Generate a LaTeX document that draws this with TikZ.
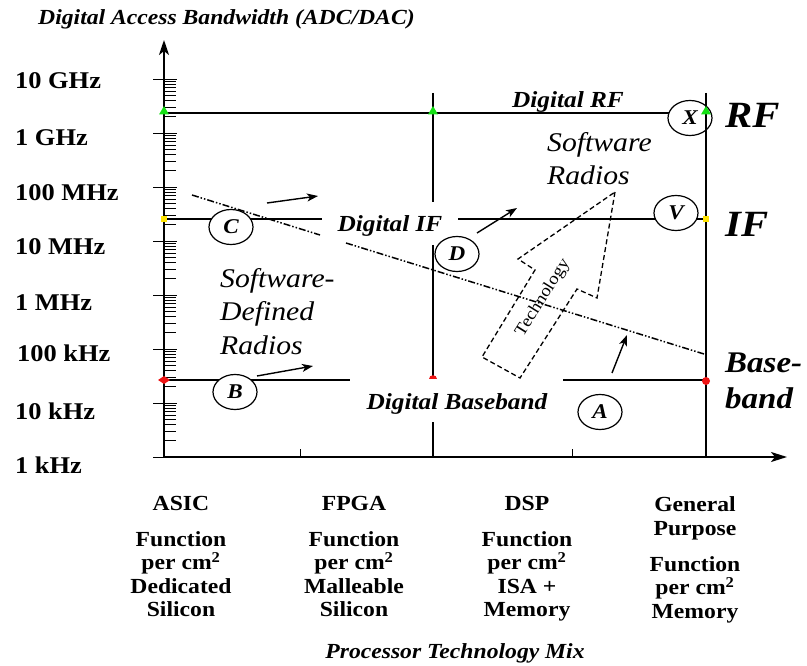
\documentclass[tikz,border=0pt]{standalone}
\usepackage{fontspec}
\setmainfont{Liberation Serif}[FakeStretch=1.1]
\usetikzlibrary{arrows.meta,shapes.geometric}

\newcommand\fsz[2]{\fontsize{#1}{#2}\selectfont}

\definecolor{mkgreen}{RGB}{20,225,20}
\definecolor{mkyellow}{RGB}{255,228,0}
\definecolor{mkred}{RGB}{238,20,20}

\tikzset{
  axisline/.style={line width=2pt},
  gridline/.style={line width=1.3pt},
  tickline/.style={line width=0.9pt},
  pointer/.style={line width=1.4pt, -{Stealth[length=11pt,width=8pt,inset=3pt]}},
  trend/.style={line width=1.5pt, dash pattern=on 7pt off 2pt on 1.5pt off 2pt on 1.5pt off 2pt},
  bigarrow/.style={line width=1.3pt, dash pattern=on 5pt off 3pt},
  ring/.style={draw, ellipse, fill=white, line width=1.2pt, minimum width=44pt,
    minimum height=35pt, inner sep=0pt, font=\fsz{21}{21}\bfseries\itshape},
  ylab/.style={anchor=base west, inner sep=0pt, font=\fsz{24}{24}\bfseries},
  levellab/.style={anchor=base, inner sep=0pt, font=\fsz{23}{23}\bfseries\itshape},
  sidelab/.style={anchor=base west, inner sep=0pt, font=\fsz{37}{37}\bfseries\itshape},
  classlab/.style={anchor=base west, inner sep=0pt, align=left, font=\fsz{27}{33.5}\itshape},
  colhead/.style={anchor=north, inner sep=0pt, align=center, font=\fsz{21.5}{24}\bfseries},
  colbody/.style={anchor=north, inner sep=0pt, align=center, font=\fsz{21.5}{23.5}\bfseries},
}

\begin{document}
\begin{tikzpicture}[x=1pt,y=-1pt]
\useasboundingbox (0,0) rectangle (807,666);

% ---------- axes ----------
\coordinate (O) at (164,457);
\coordinate (Ytop) at (164,40);
\coordinate (Xend) at (787,457);
\draw[axisline,-{Stealth[length=15pt,width=10pt,inset=4pt]}] (O) -- (Ytop);
\draw[axisline,-{Stealth[length=16pt,width=10pt,inset=4pt]}] (O) -- (Xend);

% decade ticks and logarithmic minor ticks
\foreach \d in {0,...,7}
  \draw[tickline] (153,{457-54*\d}) -- (177,{457-54*\d});
\foreach \d in {0,...,6}
  \foreach \m in {2,...,9}
    \draw[tickline] (165,{457-54*\d-54*log10(\m)}) -- (176,{457-54*\d-54*log10(\m)});

% small ticks on the technology axis
\draw[tickline] (300,457) -- (300,449);
\draw[tickline] (572,457) -- (572,449);

% ---------- axis labels ----------
\node[anchor=base west, inner sep=0pt, font=\fsz{21.5}{21.5}\bfseries\itshape] (title) at (38,25)
  {Digital Access Bandwidth (ADC/DAC)};
\node[ylab] (f10g)   at (15,88.5)  {10 GHz};
\node[ylab] (f1g)    at (15,145.5) {1 GHz};
\node[ylab] (f100m)  at (15,200.5) {100 MHz};
\node[ylab] (f10m)   at (15,254.5) {10 MHz};
\node[ylab] (f1m)    at (15,310.5) {1 MHz};
\node[ylab] (f100k)  at (17,361.5) {100 kHz};
\node[ylab] (f10k)   at (15,419.5) {10 kHz};
\node[ylab] (f1k)    at (15,473)   {1 kHz};

% ---------- level lines ----------
\coordinate (rf0) at (164,113);  \coordinate (rf1) at (706,113);
\coordinate (if0) at (164,219);  \coordinate (ifa) at (322,219);
\coordinate (ifb) at (458,219);  \coordinate (if1) at (706,219);
\coordinate (bb0) at (164,380);  \coordinate (bba) at (350,380);
\coordinate (bbb) at (563,380);  \coordinate (bb1) at (706,380);
\draw[gridline] (rf0) -- (rf1);
\draw[gridline] (if0) -- (ifa);
\draw[gridline] (ifb) -- (if1);
\draw[gridline] (bb0) -- (bba);
\draw[gridline] (bbb) -- (bb1);

% DSP column divider (broken around the labels)
\coordinate (d0) at (433,93);  \coordinate (d1) at (433,202);
\coordinate (d2) at (433,245); \coordinate (d3) at (433,378);
\coordinate (d4) at (433,422); \coordinate (d5) at (433,457);
\draw[gridline] (d0) -- (d1);
\draw[gridline] (d2) -- (d3);
\draw[gridline] (d4) -- (d5);

% ---------- level names ----------
\node[levellab] (drf) at (568,108) {Digital RF};
\node[levellab] (dif) at (390,232) {Digital IF};
\node[levellab] (dbb) at (457,409) {Digital Baseband};

% ---------- lettered points ----------
\node[ring] (C) at (231,227) {C};
\node[ring] (B) at (235,392) {B};
\node[ring] (D) at (457,254) {D};
\node[ring] (V) at (676,213) {V};
\node[ring] (X) at (690,118) {X};
\node[ring] (A) at (600,412) {A};

% general purpose column divider
\coordinate (g0) at (706,93); \coordinate (g1) at (706,457);
\draw[gridline] (g0) -- (g1);

% ---------- markers ----------
\foreach \x in {164,433,706}
  \fill[mkgreen] (\x-5,114.5) -- (\x+5,114.5) -- (\x,106) -- cycle;
\fill[mkyellow] (161,216) rectangle (167,222);
\fill[mkyellow] (703,216) rectangle (709,222);
\fill[mkred] (158,380) -- (164,376) -- (170,380) -- (164,384) -- cycle;
\fill[mkred] (429,379) .. controls (429,374) and (437,374) .. (437,379) -- cycle;
\fill[mkred] (706,381) circle (4);

% ---------- technology trend line ----------
\coordinate (t0) at (192,195); \coordinate (t1) at (320,235);
\coordinate (t2) at (346,243); \coordinate (t3) at (704,354);
\draw[trend] (t0) -- (t1);
\draw[trend] (t2) -- (t3);

% ---------- motion arrows ----------
\coordinate (p1a) at (267,203); \coordinate (p1b) at (318,196);
\coordinate (p2a) at (477,233); \coordinate (p2b) at (517,208);
\coordinate (p3a) at (257,376); \coordinate (p3b) at (313,366);
\coordinate (p4a) at (612,373); \coordinate (p4b) at (627,335);
\draw[pointer] (p1a) -- (p1b);
\draw[pointer] (p2a) -- (p2b);
\draw[pointer] (p3a) -- (p3b);
\draw[pointer] (p4a) -- (p4b);

% ---------- technology block arrow ----------
\coordinate (h0) at (615,192);
\coordinate (h1) at (597,298);
\coordinate (h2) at (577,289);
\coordinate (h3) at (520,378);
\coordinate (h4) at (482,357);
\coordinate (h5) at (535,270);
\coordinate (h6) at (518,259);
\draw[bigarrow] (h0) -- (h1) -- (h2) -- (h3) -- (h4) -- (h5) -- (h6) -- cycle;
\node[rotate=58, inner sep=0pt, font=\fsz{17}{17}] (tech) at (543,298) {Technology};

% ---------- region names (base = last line) ----------
\node[classlab] (sdr) at (220,354) {Software-\\Defined\\Radios};
\node[classlab] (swr) at (547,185) {Software\\Radios};

\node[sidelab] (rf) at (725,128) {RF};
\node[sidelab] (if) at (725,237) {IF};
\node[anchor=base west, inner sep=0pt, align=left, font=\fsz{30}{36}\bfseries\itshape] (bb) at (725,408) {Base-\\band};

% ---------- processor technology columns ----------
\node[colhead] (asic) at (181,496) {ASIC};
\node[colhead] (fpga) at (354,496) {FPGA};
\node[colhead] (dsp)  at (527,496) {DSP};
\node[colhead] (gpp)  at (695,496) {General\\Purpose};
\node[colbody] (asicb) at (181,531) {Function\\per cm\textsuperscript{2}\\Dedicated\\Silicon};
\node[colbody] (fpgab) at (354,531) {Function\\per cm\textsuperscript{2}\\Malleable\\Silicon};
\node[colbody] (dspb)  at (527,531) {Function\\per cm\textsuperscript{2}\\ISA +\\Memory};
\node[colbody] (gppb)  at (695,556) {Function\\per cm\textsuperscript{2}\\Memory};

\node[anchor=base, inner sep=0pt, font=\fsz{21.5}{21.5}\bfseries\itshape] (mix) at (455,658) {Processor Technology Mix};
\end{tikzpicture}
\end{document}
